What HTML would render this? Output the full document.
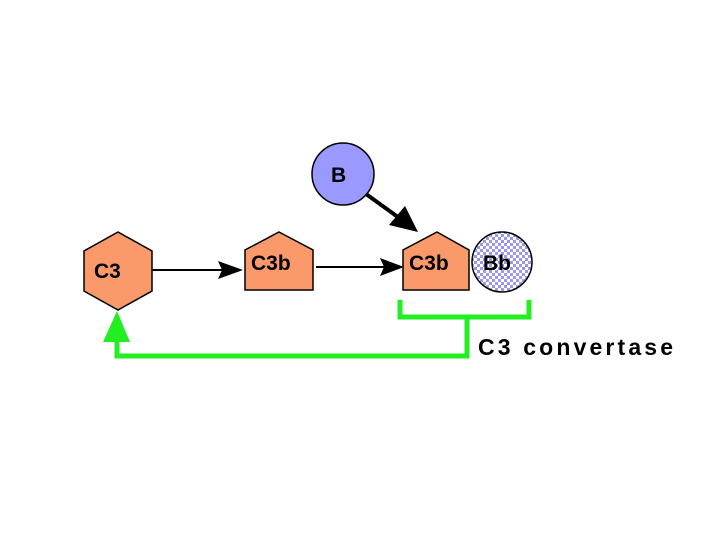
<!DOCTYPE html>
<html><head><style>
html,body{margin:0;padding:0;background:#fff;}
svg{display:block;}
</style></head><body>
<svg width="720" height="540" viewBox="0 0 720 540" xmlns="http://www.w3.org/2000/svg">
<defs>
<pattern id="chk" width="6" height="6" patternUnits="userSpaceOnUse">
<rect width="6" height="6" fill="#9999ee"/>
<rect width="3" height="3" fill="#fff"/>
<rect x="3" y="3" width="3" height="3" fill="#fff"/>
</pattern>
</defs>
<!-- green feedback -->
<g stroke="#22ee22" stroke-width="5" fill="none">
<polyline points="400,300 400,317 529,317 529,300"/>
<polyline points="467,317 467,356 117,356 117,338"/>
</g>
<polygon points="117,311 103,342 130,342" fill="#22ee22"/>
<!-- black arrows -->
<line x1="152" y1="270" x2="228" y2="270" stroke="#000" stroke-width="2"/>
<polygon points="243,270 218,261 222,270 218,279" fill="#000"/>
<line x1="316" y1="267" x2="390" y2="267" stroke="#000" stroke-width="2"/>
<polygon points="404,267 380,258 384,267 380,276" fill="#000"/>
<line x1="366" y1="194" x2="402" y2="220" stroke="#000" stroke-width="4"/>
<polygon points="418,232 389,225 405,206" fill="#000"/>
<!-- C3 hexagon -->
<polygon points="118,232 152,251 152,291 118,310 84,291 84,251" fill="#fa9a6a" stroke="#000" stroke-width="1.5"/>
<text x="94" y="278" font-family="Liberation Sans, sans-serif" font-weight="bold" font-size="21" fill="#000">C3</text>
<!-- C3b 1 -->
<polygon points="279,232 313,250 313,290 245,290 245,250" fill="#fa9a6a" stroke="#000" stroke-width="1.5"/>
<text x="251" y="270" font-family="Liberation Sans, sans-serif" font-weight="bold" font-size="21" fill="#000">C3b</text>
<!-- C3b 2 -->
<polygon points="437,232 469,250 469,290 403,290 403,250" fill="#fa9a6a" stroke="#000" stroke-width="1.5"/>
<text x="409" y="270" font-family="Liberation Sans, sans-serif" font-weight="bold" font-size="21" fill="#000">C3b</text>
<!-- Bb -->
<circle cx="502" cy="262" r="30" fill="url(#chk)" stroke="#000" stroke-width="1.5"/>
<text x="483" y="270" font-family="Liberation Sans, sans-serif" font-weight="bold" font-size="21" fill="#000">Bb</text>
<!-- B -->
<circle cx="343" cy="174" r="31" fill="#9999ff" stroke="#000" stroke-width="1.5"/>
<text x="331" y="182" font-family="Liberation Sans, sans-serif" font-weight="bold" font-size="21" fill="#000">B</text>
<!-- label -->
<text x="478" y="355" font-family="Liberation Sans, sans-serif" font-weight="bold" font-size="23" fill="#000" textLength="195">C3 convertase</text>
</svg>
</body></html>
